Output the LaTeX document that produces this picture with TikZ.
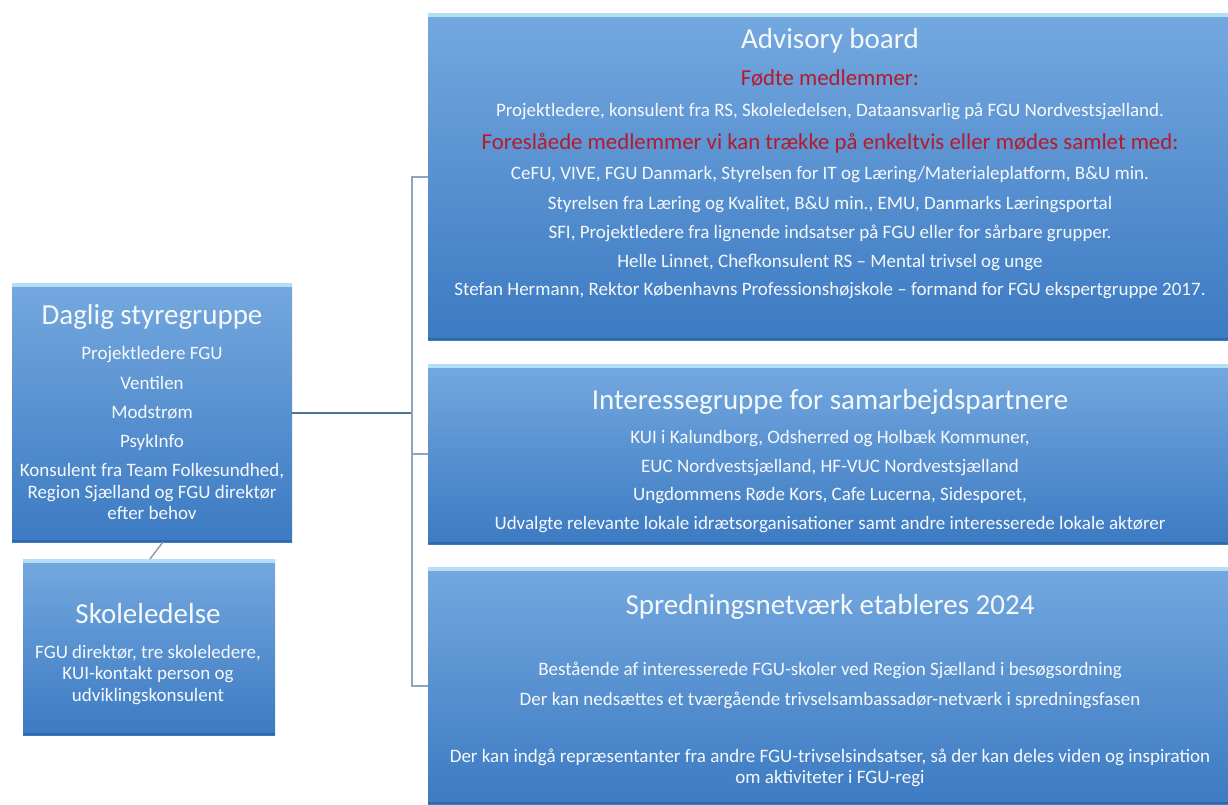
\documentclass[tikz,border=0pt]{standalone}
\usepackage{fontspec}
\setmainfont{Carlito}
\definecolor{boxtop}{HTML}{74A8DF}
\definecolor{boxbot}{HTML}{3C7AC2}
\definecolor{boxhi}{HTML}{B3DEF6}
\definecolor{boxedge}{HTML}{2F68A8}
\definecolor{txtw}{HTML}{F6F9FC}
\definecolor{redc}{HTML}{B51A2C}
\definecolor{busdark}{HTML}{4E7299}
\definecolor{buslight}{HTML}{8CA5C3}
\definecolor{linkgrey}{HTML}{8E9DAE}
\begin{document}
\begin{tikzpicture}[x=1pt,y=-1pt,
  box/.style={rectangle, inner sep=0pt, outer sep=0pt, top color=boxtop, bottom color=boxbot, draw=none,
    path picture={\fill[boxhi] (path picture bounding box.north west) rectangle ([yshift=-4pt]path picture bounding box.north east);
      \fill[boxedge] (path picture bounding box.south west) rectangle ([yshift=2pt]path picture bounding box.south east);}},
  ttl/.style={text=txtw, font=\fontsize{29}{32}\selectfont, inner sep=0pt, text height=20.5pt, text depth=0pt},
  bodytxt/.style={text=txtw, font=\fontsize{19}{22}\selectfont, inner sep=0pt, text height=13.5pt, text depth=0pt},
  redtxt/.style={text=redc, font=\fontsize{22.8}{26}\selectfont, inner sep=0pt, text height=16pt, text depth=0pt},
  busd/.style={draw=busdark, line width=2pt},
  busl/.style={draw=buslight, line width=2pt},
  linkg/.style={draw=linkgrey, line width=1.5pt}]
\useasboundingbox (0,0) rectangle (1228,804);

% boxes
\node[box, minimum width=800pt, minimum height=327pt] (adv) at (828,176.5) {};
\node[box, minimum width=800pt, minimum height=180pt] (int) at (828,454) {};
\node[box, minimum width=800pt, minimum height=237pt] (spr) at (828,685.5) {};
\node[box, minimum width=280pt, minimum height=259pt] (dag) at (152,412.5) {};
\node[box, minimum width=252pt, minimum height=176pt] (sko) at (149,647) {};

% connectors
\coordinate (busj) at (412,412.5);
\draw[busd] (dag.east) -- (busj);
\draw[busl] (adv.west) -| (busj) |- (spr.west);
\draw[busl] (busj) |- (int.west);
\draw[linkg] ([xshift=11pt]dag.south) -- ([xshift=1pt]sko.north);

% Advisory board
\node[ttl] (adv0) at (830,38) {Advisory board};
\node[redtxt] (adv1) at (830,77) {Fødte medlemmer:};
\node[bodytxt] (adv2) at (830,110) {Projektledere, konsulent fra RS, Skoleledelsen, Dataansvarlig på FGU Nordvestsjælland.};
\node[redtxt] (adv3) at (830,141) {Foreslåede medlemmer vi kan trække på enkeltvis eller mødes samlet med:};
\node[bodytxt] (adv4) at (830,173) {CeFU, VIVE, FGU Danmark, Styrelsen for IT og Læring/Materialeplatform, B\&U min.};
\node[bodytxt] (adv5) at (830,203) {Styrelsen fra Læring og Kvalitet, B\&U min., EMU, Danmarks Læringsportal};
\node[bodytxt] (adv6) at (830,232) {SFI, Projektledere  fra lignende indsatser på FGU eller for sårbare grupper.};
\node[bodytxt] (adv7) at (830,261) {Helle Linnet, Chefkonsulent RS – Mental trivsel og unge};
\node[bodytxt] (adv8) at (830,289) {Stefan Hermann, Rektor Københavns Professionshøjskole – formand for FGU ekspertgruppe 2017.};

% Interessegruppe
\node[ttl] (int0) at (830,399) {Interessegruppe for samarbejdspartnere};
\node[bodytxt] (int1) at (830,437) {KUI i Kalundborg, Odsherred og Holbæk Kommuner,};
\node[bodytxt] (int2) at (830,466) {EUC Nordvestsjælland, HF-VUC Nordvestsjælland};
\node[bodytxt] (int3) at (830,494) {Ungdommens  Røde Kors, Cafe Lucerna, Sidesporet,};
\node[bodytxt] (int4) at (830,523) {Udvalgte relevante lokale idrætsorganisationer samt andre interesserede lokale aktører};

% Spredningsnetvaerk
\node[ttl] (spr0) at (830,604) {Spredningsnetværk etableres 2024};
\node[bodytxt] (spr1) at (830,669) {Bestående af interesserede FGU-skoler ved Region Sjælland i besøgsordning};
\node[bodytxt] (spr2) at (830,699) {Der kan nedsættes et tværgående trivselsambassadør-netværk i spredningsfasen};
\node[bodytxt] (spr3) at (830,756) {Der kan indgå repræsentanter fra andre FGU-trivselsindsatser, så der kan deles viden og inspiration};
\node[bodytxt] (spr4) at (830,777) {om aktiviteter i FGU-regi};

% Daglig styregruppe
\node[ttl] (dag0) at (152,314) {Daglig styregruppe};
\node[bodytxt] (dag1) at (152,353) {Projektledere FGU};
\node[bodytxt] (dag2) at (152,383) {Ventilen};
\node[bodytxt] (dag3) at (152,412) {Modstrøm};
\node[bodytxt] (dag4) at (152,441) {PsykInfo};
\node[bodytxt] (dag5) at (152,470) {Konsulent fra Team Folkesundhed,};
\node[bodytxt] (dag6) at (152,492) {Region Sjælland og FGU direktør};
\node[bodytxt] (dag7) at (152,513) {efter behov};

% Skoleledelse
\node[ttl] (sko0) at (148,613) {Skoleledelse};
\node[bodytxt] (sko1) at (148,652) {FGU direktør, tre skoleledere,};
\node[bodytxt] (sko2) at (148,673) {KUI-kontakt person og};
\node[bodytxt] (sko3) at (148,695) {udviklingskonsulent};
\end{tikzpicture}
\end{document}
